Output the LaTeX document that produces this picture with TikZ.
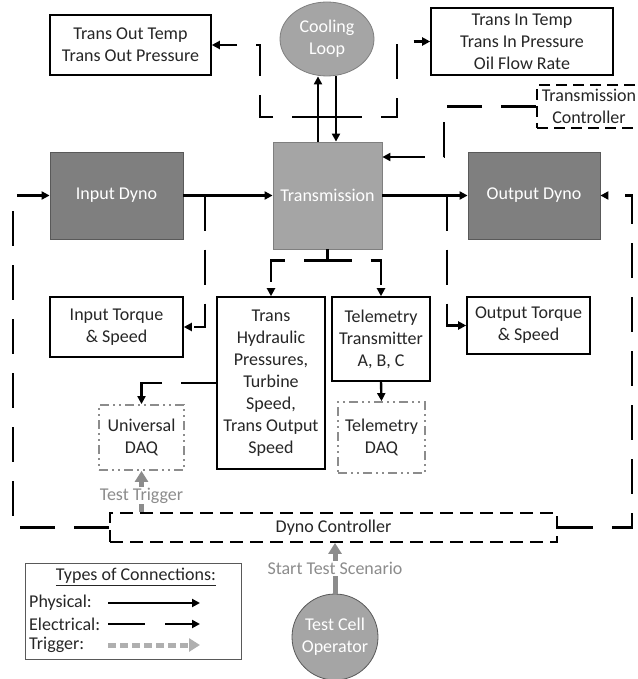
\documentclass[tikz,border=0pt]{standalone}
\usepackage{fontspec}
\setmainfont{Carlito}
\usetikzlibrary{arrows.meta,shapes.geometric,calc}
\definecolor{txt}{HTML}{262626}
\definecolor{dkg}{HTML}{7F7F7F}
\definecolor{mdg}{HTML}{A5A5A5}
\definecolor{bdr}{HTML}{595959}
\definecolor{trg}{HTML}{8C8C8C}
\begin{document}
\begin{tikzpicture}[x=1pt,y=-1pt,
  font=\fontsize{18}{22}\selectfont, text=txt,
  box/.style={draw=black, line width=1.6pt, fill=white, align=center, inner sep=1pt},
  gbox/.style={draw=bdr, line width=0.8pt, fill=dkg, text=white, align=center, inner sep=1pt},
  lbox/.style={draw=dkg, line width=0.8pt, fill=mdg, text=white, align=center, inner sep=1pt},
  dbox/.style={draw=trg, line width=1.8pt, fill=white, align=center, inner sep=1pt,
    dash pattern=on 9pt off 4pt on 2pt off 4pt on 2pt off 4pt},
  cbox/.style={draw=black, line width=1.8pt, fill=white, align=center, inner sep=1pt,
    dash pattern=on 11pt off 6pt},
  tip/.tip={Triangle[length=8pt,width=8pt]},
  phys/.style={draw=black, line width=2.4pt, -tip},
  elec/.style={draw=black, line width=2.4pt, dash pattern=on 35pt off 19pt, -tip},
  trig/.style={draw=trg, line width=5pt, -{Triangle[length=11pt,width=13pt]}},
  glab/.style={fill=white, text=trg, inner sep=1pt}
]
\useasboundingbox (0,0) rectangle (637,679);

% nodes
\node[box, minimum width=161pt, minimum height=60pt] (tout) at (130.5,45) {Trans Out Temp\\Trans Out Pressure};
\node[lbox, ellipse, minimum width=94pt, minimum height=74pt, inner sep=0pt] (cool) at (327,39) {Cooling\\Loop};
\node[box, minimum width=182pt, minimum height=67pt] (tin) at (522,41.5) {Trans In Temp\\Trans In Pressure\\Oil Flow Rate};
\node[cbox, minimum width=104pt, minimum height=43pt] (tc) at (589,106.5) {Transmission\\Controller};
\node[lbox, minimum width=109pt, minimum height=107pt] (trans) at (327.5,195.5) {Transmission};
\node[gbox, minimum width=133pt, minimum height=87pt] (indyno) at (116.5,195.5) {Input Dyno};
\node[gbox, minimum width=132pt, minimum height=87pt] (outdyno) at (534,195.5) {Output Dyno};
\node[box, minimum width=133pt, minimum height=60pt] (intq) at (116.5,327) {Input Torque\\\&~Speed};
\node[box, minimum width=108pt, minimum height=172pt] (hyd) at (271,383) {Trans\\Hydraulic\\Pressures,\\Turbine\\Speed,\\Trans Output\\Speed};
\node[box, minimum width=98pt, minimum height=84pt] (tel) at (381,339) {Telemetry\\Transmitter\\A, B, C};
\node[box, minimum width=123pt, minimum height=57pt] (outtq) at (528.5,325.5) {Output Torque\\\&~Speed};
\node[dbox, minimum width=85pt, minimum height=65pt] (udaq) at (141.5,437.5) {Universal\\DAQ};
\node[dbox, minimum width=87pt, minimum height=71pt] (tdaq) at (381.5,437.5) {Telemetry\\DAQ};
\node[cbox, minimum width=447pt, minimum height=29pt, dash pattern=on 13pt off 7pt] (dc) at (333.5,527.5) {Dyno Controller};
\node[draw=bdr, line width=0.8pt, fill=mdg, text=white, circle, minimum size=86pt, inner sep=0pt, align=center] (op) at (335,637) {Test Cell\\Operator};

% helper coordinates
\coordinate (c318) at (318,0);
\coordinate (c336) at (336,0);
\coordinate (cmid) at (327,117);
\coordinate (jin) at (205,195.5);
\coordinate (jout) at (447,195.5);
\coordinate (ya) at (0,157);

% physical connections
\draw[phys] (indyno.east) -- (trans.west);
\draw[phys] (trans.east) -- (outdyno.west);
\draw[phys] (trans.north -| c318) -- (cool.south -| c318);
\draw[phys] (cool.south -| c336) -- (trans.north -| c336);

% electrical connections
\draw[elec] (cmid) -| (260,80) |- (tout.east);
\draw[elec] (cmid) -| (397,80) |- (tin.west);
\draw[elec] (tc.west) -| (444,157) -- (trans.east |- ya);
\draw[elec] (jin) |- (intq.east);
\draw[elec] (jout) |- (outtq.west);
\draw[elec] (trans.south) -- ++(0,11) -| (hyd.north);
\draw[elec] (trans.south) -- ++(0,11) -| (tel.north);
\draw[elec] (hyd.west) -| (udaq.north);
\draw[elec] (tel.south) -- (tdaq.north);
\draw[elec] (dc.west) -| (13,195.5) -- (indyno.west);
\draw[elec] (dc.east) -| (632,195.5) -- (outdyno.east);

% triggers
\draw[trig] (dc.north -| udaq.south) -- node[glab, pos=0.4] {Test Trigger} (udaq.south);
\draw[trig] (op.north) -- node[glab, pos=0.5] {Start Test Scenario} (dc.south -| op.north);

% legend
\node[draw=bdr, line width=0.9pt, minimum width=216pt, minimum height=96pt] (leg) at (133,611) {};
\node (lt) at (136,577) {\underline{Types of Connections:}};
\node[anchor=west, inner sep=0pt] (lp) at (29,603) {Physical:};
\node[anchor=west, inner sep=0pt] (le) at (29,624) {Electrical:};
\node[anchor=west, inner sep=0pt] (lg) at (29,645) {Trigger:};
\coordinate (lp1) at (108,603); \coordinate (lp2) at (200,603);
\coordinate (le1) at (108,624); \coordinate (le2) at (200,624);
\coordinate (lg1) at (108,645); \coordinate (lg2) at (200,645);
\draw[phys] (lp1) -- (lp2);
\draw[elec, dash pattern=on 37pt off 20pt] (le1) -- (le2);
\draw[trig, draw=trg!70, dash pattern=on 8pt off 4pt] (lg1) -- (lg2);
\end{tikzpicture}
\end{document}
